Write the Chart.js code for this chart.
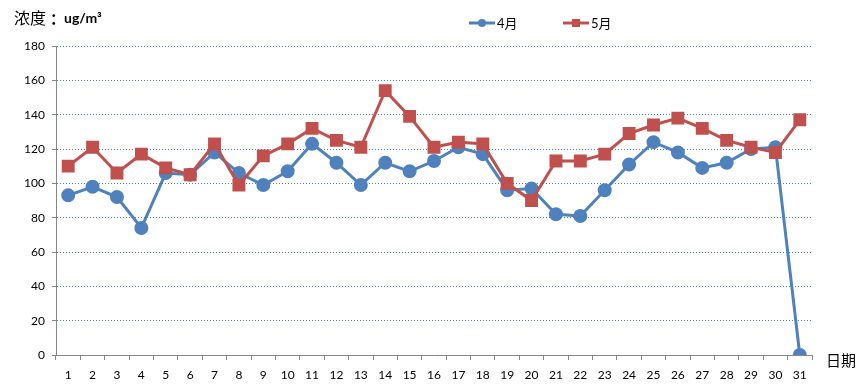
<!DOCTYPE html>
<html>
<head>
<meta charset="utf-8">
<script src="https://cdn.jsdelivr.net/npm/chart.js@4"></script>
<style>
  html, body { margin: 0; padding: 0; background: #fff; }
  #wrap { width: 865px; height: 392px; }
</style>
</head>
<body>
<div id="wrap"><canvas id="c" width="865" height="392"></canvas></div>
<script>
const days = Array.from({ length: 31 }, (_, i) => String(i + 1));
const april = [93, 98, 92, 74, 106, 105, 118, 106, 99, 107, 123, 112, 99, 112, 107, 113, 121, 117, 96, 97, 82, 81, 96, 111, 124, 118, 109, 112, 120, 121, 0];
const may = [110, 121, 106, 117, 109, 105, 123, 99, 116, 123, 132, 125, 121, 154, 139, 121, 124, 123, 100, 90, 113, 113, 117, 129, 134, 138, 132, 125, 121, 118, 137];
const seriesNames = ['4月', '5月'];
const yTitle = '浓度';
const yUnit = 'ug/m³';
const xTitle = '日期';

const BLUE = '#4f81bd';
const RED = '#c0504d';
const tickFont = { family: 'Lato, "Liberation Sans", sans-serif', size: 12 };

// titles and legend drawn on the canvas
const extras = {
  id: 'extras',
  afterDraw(chart) {
    const ctx = chart.ctx;
    ctx.save();
    ctx.fillStyle = '#000';
    ctx.textBaseline = 'middle';
    ctx.font = '16px "Noto Sans CJK SC", sans-serif';
    ctx.fillText(yTitle, 14, 18);
    ctx.font = 'bold 15px "Noto Sans CJK SC", sans-serif';
    ctx.fillText('：', 50, 18);
    ctx.font = 'bold 14px Lato, "Noto Sans CJK SC", sans-serif';
    ctx.fillText(yUnit, 64, 18);
    ctx.font = '15px "Noto Sans CJK SC", sans-serif';
    ctx.fillText(xTitle, 826, 360);

    // legend
    const items = [
      { x: 469, color: BLUE, style: 'circle', text: seriesNames[0] },
      { x: 563, color: RED, style: 'rect', text: seriesNames[1] }
    ];
    items.forEach(it => {
      ctx.strokeStyle = it.color;
      ctx.lineWidth = 3;
      ctx.beginPath();
      ctx.moveTo(it.x, 23);
      ctx.lineTo(it.x + 26, 23);
      ctx.stroke();
      ctx.fillStyle = it.color;
      if (it.style === 'circle') {
        ctx.beginPath();
        ctx.arc(it.x + 13, 23, 4, 0, Math.PI * 2);
        ctx.fill();
      } else {
        ctx.fillRect(it.x + 9, 19, 8, 8);
      }
      ctx.fillStyle = '#000';
      ctx.font = '13px Lato, "Noto Sans CJK SC", sans-serif';
      ctx.fillText(it.text, it.x + 28, 24);
    });
    ctx.restore();
  }
};

new Chart(document.getElementById('c'), {
  type: 'line',
  data: {
    labels: days,
    datasets: [
      {
        label: seriesNames[0], data: april, borderColor: BLUE, backgroundColor: BLUE,
        borderWidth: 3, pointStyle: 'circle', pointRadius: 5.5, pointHoverRadius: 5.5,
        tension: 0, order: 1
      },
      {
        label: seriesNames[1], data: may, borderColor: RED, backgroundColor: RED,
        borderWidth: 3, pointStyle: 'rect', pointRadius: 7, pointHoverRadius: 7,
        tension: 0, order: 0
      }
    ]
  },
  options: {
    responsive: false,
    animation: false,
    layout: { padding: { left: 0, right: 53, top: 46, bottom: 0 } },
    plugins: { legend: { display: false }, tooltip: { enabled: false } },
    scales: {
      x: {
        offset: true,
        afterFit: s => { s.height = 37; },
        grid: {
          offset: true, drawOnChartArea: false, drawTicks: true,
          tickLength: 5, tickColor: '#868686', color: '#868686'
        },
        border: { color: '#868686', width: 1 },
        ticks: { color: '#000', font: tickFont, padding: 8, maxRotation: 0, autoSkip: false }
      },
      y: {
        min: 0, max: 180,
        afterFit: s => { s.width = 56; },
        grid: {
          color: c => (c.tick && c.tick.value === 0) ? 'rgba(0,0,0,0)' : '#4a7ebb',
          lineWidth: 1, drawTicks: true, tickLength: 4, tickColor: '#868686'
        },
        border: { color: '#868686', width: 1, dash: [1, 2] },
        ticks: { stepSize: 20, color: '#000', font: tickFont, padding: 7 }
      }
    }
  },
  plugins: [extras]
});
</script>
</body>
</html>
